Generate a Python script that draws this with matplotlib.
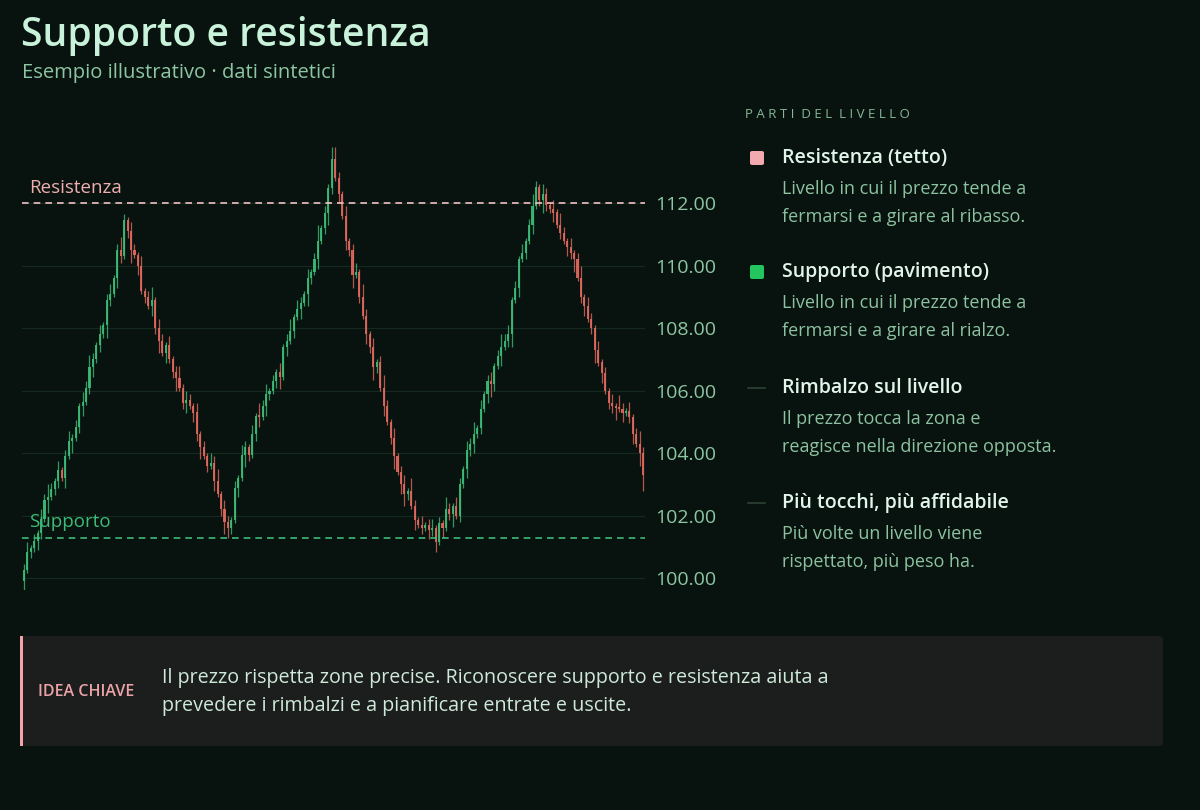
import matplotlib
matplotlib.use("Agg")
import matplotlib.pyplot as plt
from matplotlib.patches import FancyBboxPatch, Rectangle
import numpy as np

plt.rcParams['font.family'] = ['Open Sans', 'DejaVu Sans']

############# data ##############
first_open = 99.9
closes = [
    100.25, 100.85, 100.95, 101.2, 101.45, 101.9, 102.5, 102.6, 102.85, 103.1,
    103.45, 103.2, 103.9, 104.4, 104.5, 104.85, 105.5, 105.65, 106.1, 106.75,
    107.0, 107.45, 107.8, 108.1, 108.9, 109.1, 109.6, 110.5, 110.3, 111.45,
    111.1, 110.5, 110.35, 110.0, 109.2, 109.0, 108.7, 108.9, 108.0, 107.6,
    107.2, 107.45, 107.0, 106.6, 106.4, 106.1, 105.6, 105.7, 105.5, 105.3,
    104.6, 104.2, 103.9, 103.6, 103.7, 103.1, 102.7, 102.2, 101.8, 101.6,
    101.85, 102.9, 103.2, 103.95, 104.2, 103.95, 104.6, 105.2, 105.15, 105.5,
    105.9, 106.0, 106.3, 106.6, 106.45, 107.4, 107.6, 107.9, 108.35, 108.6,
    108.8, 109.1, 109.6, 109.8, 110.2, 110.8, 111.2, 111.7, 112.5, 113.4,
    112.8, 112.3, 111.6, 110.8, 110.5, 109.7, 109.8, 109.0, 108.4, 107.8,
    107.4, 106.75, 106.9, 106.1, 105.5, 105.0, 104.5, 103.9, 103.4, 103.0,
    102.7, 102.8, 102.3, 101.85, 101.7, 101.6, 101.7, 101.55, 101.6, 101.15,
    101.75, 101.6, 102.2, 102.05, 102.3, 102.0, 103.0, 103.5, 104.1, 104.3,
    104.6, 104.8, 105.4, 105.9, 106.3, 106.2, 106.8, 107.1, 107.4, 107.6,
    107.8, 108.9, 109.3, 110.2, 110.4, 110.8, 111.3, 111.9, 112.5, 112.1,
    112.3, 111.95, 111.8, 111.7, 111.3, 111.05, 110.8, 110.6, 110.4, 110.2,
    109.6, 109.0, 108.7, 108.3, 108.0, 107.3, 106.9, 106.55, 106.0, 105.6,
    105.5, 105.45, 105.4, 105.3, 105.35, 105.15, 104.6, 104.3, 104.0, 103.3,
]
# wick lengths in tenths of a point, one digit per candle
wick_hi = ("2312132421" "3123121324" "2131231242" "1321312413" "2131241321"
           "3121324132" "1213213142" "3121312413" "2131251214" "4213123142"
           "1312421312" "3142131231" "2142132132" "4131231242" "3121312421"
           "3213142131" "2413213121" "3142131242")
wick_lo = ("3121321412" "2131412312" "3121421321" "2413121324" "1312412313"
           "2412131243" "2131421231" "3212413121" "3142131242" "1313241213"
           "2421312413" "4213121323" "1312412132" "3121342131" "2413121312"
           "4213121324" "1231241312" "2413123145")

resistance = 112.0
support = 101.3
y_ticks = [100, 102, 104, 106, 108, 110, 112]

legend_titles = ["Resistenza (tetto)", "Supporto (pavimento)",
                 "Rimbalzo sul livello", "Più tocchi, più affidabile"]
legend_desc = [
    ["Livello in cui il prezzo tende a", "fermarsi e a girare al ribasso."],
    ["Livello in cui il prezzo tende a", "fermarsi e a girare al rialzo."],
    ["Il prezzo tocca la zona e", "reagisce nella direzione opposta."],
    ["Più volte un livello viene", "rispettato, più peso ha."],
]

############# style ##############
BG = '#08130f'
UP = '#3dbb78'
DOWN = '#e0695f'
PINK = '#f2a9b0'
GREEN = '#22c55e'

W, H = 1200, 810
fig = plt.figure(figsize=(12, 8.1), dpi=100, facecolor=BG)


def px(x, y):
    return x / W, 1 - y / H


def text(x, y, s, **kw):
    fx, fy = px(x, y)
    kw.setdefault('va', 'center')
    kw.setdefault('ha', 'left')
    fig.text(fx, fy, s, **kw)


# title block
text(21, 36, "Supporto e resistenza", fontsize=28.2, color='#c9f2da', weight='semibold')
text(22, 73, "Esempio illustrativo · dati sintetici", fontsize=14.5, color='#8cc6a2')

############# candlestick chart ##############
ax = fig.add_axes([22 / W, 1 - 590 / H, 623 / W, 450 / H])
ax.set_facecolor(BG)

c = np.array(closes)
o = np.concatenate([[first_open], c[:-1]])
hi = np.maximum(o, c) + np.array([int(d) for d in wick_hi]) * 0.1
lo = np.minimum(o, c) - np.array([int(d) for d in wick_lo]) * 0.1
idx = np.arange(len(c))
cols = [UP if cc >= oo else DOWN for oo, cc in zip(o, c)]

ax.vlines(idx, lo, hi, colors=cols, linewidth=0.9, alpha=0.8)
ax.bar(idx, np.maximum(np.abs(c - o), 0.06), bottom=np.minimum(o, c),
       width=0.6, color=cols, linewidth=0, alpha=0.92)

ax.axhline(resistance, color='#f3c1c4', linestyle=(0, (4, 3)), linewidth=1.2)
ax.axhline(support, color=UP, linestyle=(0, (4, 3)), linewidth=1.2)
ax.text(1.5, resistance + 0.2, "Resistenza", color='#f0aeb1', fontsize=13.5, va='bottom')
ax.text(1.5, support + 0.2, "Supporto", color=UP, fontsize=13.5, va='bottom')

ax.set_xlim(-0.5, len(c) - 0.5)
ax.set_ylim(99.62, 114.02)
ax.set_yticks(y_ticks)
ax.set_yticklabels([f"{v:.2f}" for v in y_ticks])
ax.yaxis.tick_right()
ax.tick_params(axis='y', length=0, pad=7, labelsize=14, labelcolor='#8cc6a2')
ax.set_xticks([])
ax.grid(axis='y', color='#16291f', linewidth=0.8)
ax.set_axisbelow(True)
for s in ax.spines.values():
    s.set_visible(False)

############# legend panel ##############
text(745, 114, "P A R T I  D E L  L I V E L L O", fontsize=9.5, color='#86b797')
item_y = [158, 272, 388, 503]
for k, (t, d, y) in enumerate(zip(legend_titles, legend_desc, item_y)):
    if k < 2:
        fig.patches.append(FancyBboxPatch(
            px(750, y + 7), 14 / W, 14 / H, boxstyle="round,pad=0,rounding_size=0.002",
            transform=fig.transFigure, facecolor=[PINK, GREEN][k], edgecolor='none'))
    else:
        fig.lines.append(plt.Line2D([748 / W, 765 / W], [1 - y / H] * 2,
                                    transform=fig.transFigure, color='#2e4237', linewidth=1.2))
    text(782, y, t, fontsize=14, color='#e2f5ea', weight='semibold')
    text(782, y + 31, d[0], fontsize=13, color='#8cc2a0')
    text(782, y + 59, d[1], fontsize=13, color='#8cc2a0')

############# key idea box ##############
fig.patches.append(FancyBboxPatch(
    px(20, 746), 1143 / W, 110 / H, boxstyle="round,pad=0,rounding_size=0.004",
    transform=fig.transFigure, facecolor='#1b1e1d', edgecolor='none'))
fig.patches.append(Rectangle(px(20, 746), 3 / W, 110 / H, transform=fig.transFigure,
                             facecolor='#f0a3a8', edgecolor='none'))
text(38, 692, "IDEA CHIAVE", fontsize=11.5, color='#eba3a8', weight='semibold')
text(162, 678, "Il prezzo rispetta zone precise. Riconoscere supporto e resistenza aiuta a",
     fontsize=14.2, color='#cfe9da')
text(162, 706, "prevedere i rimbalzi e a pianificare entrate e uscite.",
     fontsize=14.2, color='#cfe9da')

fig.savefig("out.png", dpi=100, facecolor=BG)
